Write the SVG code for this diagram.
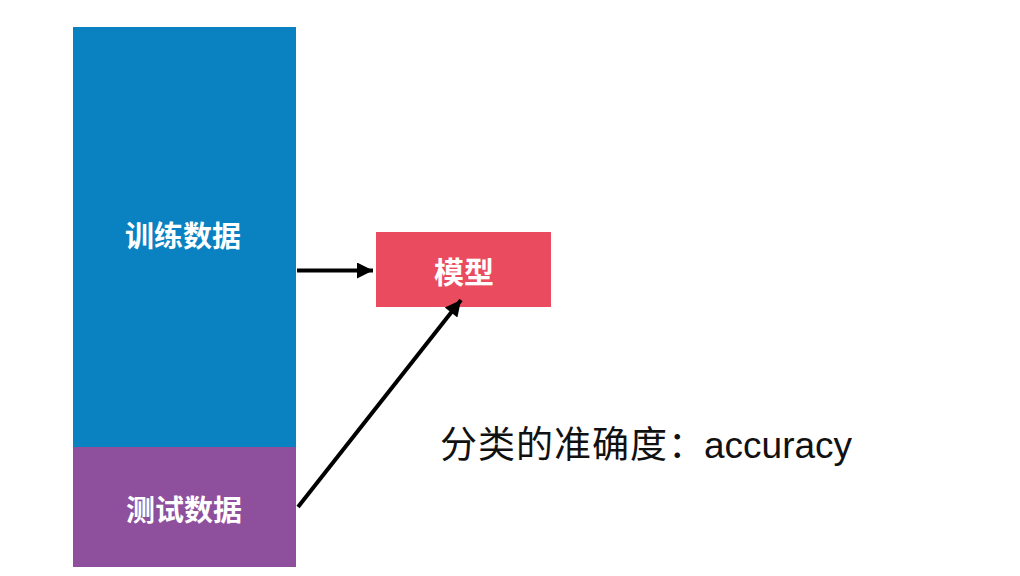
<svg xmlns="http://www.w3.org/2000/svg" width="1020" height="576" viewBox="0 0 1020 576">
<style>
.lbl{font-family:"Noto Sans CJK SC","Noto Sans",sans-serif;font-weight:bold;fill:#ffffff;text-anchor:middle}
.cap{font-family:"Noto Sans CJK SC","Liberation Sans",sans-serif;fill:#111111}
.conn{stroke:#000000;stroke-width:4;fill:none}
</style>
<defs>
<marker id="ah" viewBox="0 0 10 10" refX="10" refY="5" markerWidth="4.5" markerHeight="4" markerUnits="strokeWidth" orient="auto">
<path d="M0,0 L10,5 L0,10 z" fill="#000000"/>
</marker>
</defs>
<rect width="1020" height="576" fill="#ffffff"/>
<g id="train">
<rect x="73" y="27" width="223" height="420" fill="#0A81C1"/>
<text class="lbl" x="183" y="247" font-size="29">训练数据</text>
</g>
<g id="test">
<rect x="73" y="447" width="223" height="120" fill="#8E4F9C"/>
<text class="lbl" x="184" y="521" font-size="29">测试数据</text>
</g>
<g id="model">
<rect x="376" y="232" width="175" height="75" fill="#EA4B5E"/>
<text class="lbl" x="464" y="283" font-size="30">模型</text>
</g>
<g id="connectors">
<line class="conn" x1="297" y1="270.5" x2="373" y2="270.5" marker-end="url(#ah)"/>
<line class="conn" x1="298" y1="507" x2="461" y2="300" marker-end="url(#ah)"/>
</g>
<g id="caption">
<text class="cap" x="440" y="458" font-size="37" letter-spacing="1">分类的准确度：<tspan x="704" letter-spacing="0" font-family="'Liberation Sans',sans-serif">accuracy</tspan></text>
</g>
</svg>
